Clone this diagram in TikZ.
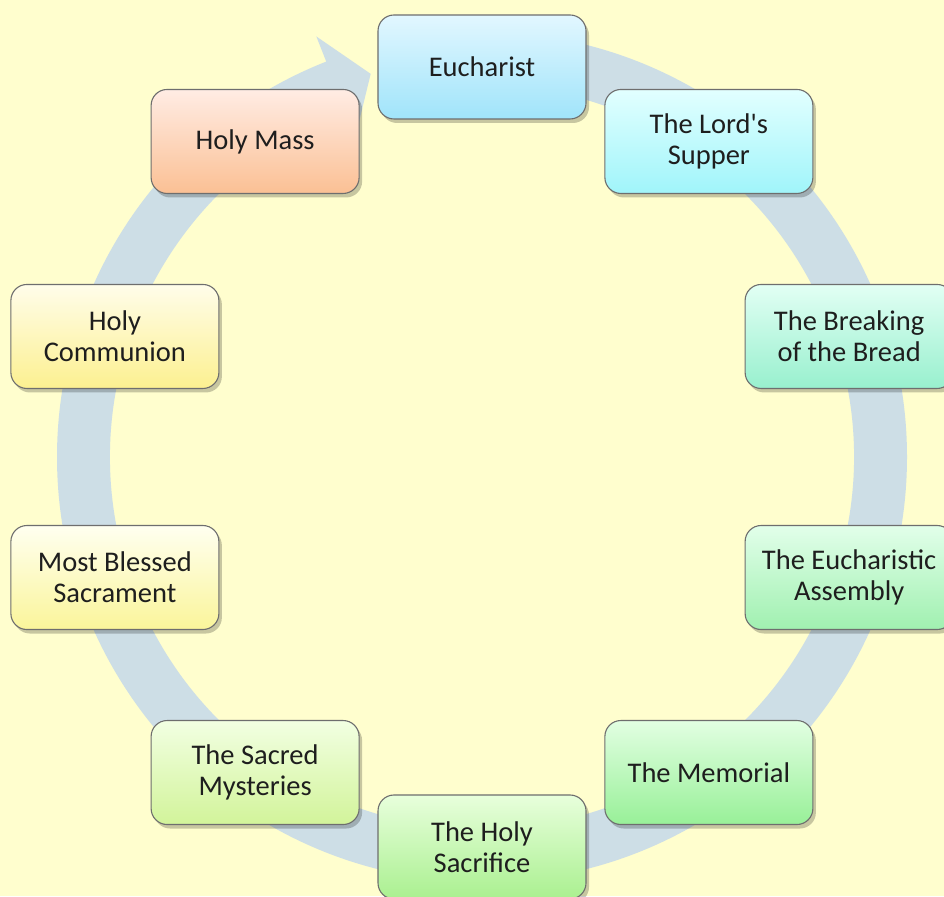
\documentclass[tikz,border=0pt]{standalone}
\usepackage{fontspec}
\setmainfont{Carlito}
\usepackage{tikz}
\usetikzlibrary{shadows}

\definecolor{paper}{RGB}{255,254,206}
\definecolor{ring}{RGB}{205,222,230}
\definecolor{edge}{RGB}{110,110,110}
\definecolor{ink}{RGB}{30,30,30}

\tikzset{
  stage/.style={draw=edge, line width=1.1pt, rounded corners=16pt,
    minimum width=208pt, minimum height=104pt, inner sep=0pt,
    align=center, text=ink,
    font=\fontsize{28.5}{31}\selectfont,
    drop shadow={shadow xshift=3pt, shadow yshift=-4pt, fill=black, opacity=0.22}},
}

\begin{document}
\begin{tikzpicture}[x=1pt,y=1pt]
        \fill[paper] (0,0) rectangle (944,896);
        \useasboundingbox (0,0) rectangle (944,896);

        \begin{scope}[shift={(482pt,439pt)}]
        %% the circular arrow behind the boxes
        \fill[ring] (90:425pt) arc[start angle=90, end angle=-248.5, radius=425pt]
            -- (-248.5:452pt) -- (-253.8:399pt) -- (-248.5:345pt)
            -- (-248.5:372pt) arc[start angle=-248.5, end angle=90, radius=372pt] -- cycle;

        \node (euch)[stage, top color={rgb,255:red,226;green,247;blue,255}, bottom color={rgb,255:red,160;green,228;blue,250}]
            at (90:386pt and 390pt) {Eucharist};
        \node (supper)[stage, top color={rgb,255:red,226;green,255;blue,255}, bottom color={rgb,255:red,160;green,245;blue,250}]
            at (54:386pt and 390pt) {The Lord\textquotesingle s\\Supper};
        \node (bread)[stage, top color={rgb,255:red,226;green,255;blue,244}, bottom color={rgb,255:red,152;green,240;blue,206}]
            at (18:386pt and 390pt) {The Breaking\\of the Bread};
        \node (assembly)[stage, top color={rgb,255:red,226;green,255;blue,234}, bottom color={rgb,255:red,160;green,240;blue,176}]
            at (-18:386pt and 390pt) {The Eucharistic\\Assembly};
        \node (memorial)[stage, top color={rgb,255:red,226;green,255;blue,226}, bottom color={rgb,255:red,152;green,240;blue,152}]
            at (-54:386pt and 390pt) {The Memorial};
        \node (sacrifice)[stage, top color={rgb,255:red,232;green,255;blue,220}, bottom color={rgb,255:red,170;green,240;blue,144}]
            at (-90:386pt and 390pt) {The Holy\\Sacrifice};
        \node (mysteries)[stage, top color={rgb,255:red,242;green,255;blue,226}, bottom color={rgb,255:red,210;green,244;blue,154}]
            at (-126:386pt and 390pt) {The Sacred\\Mysteries};
        \node (sacrament)[stage, top color={rgb,255:red,255;green,255;blue,240}, bottom color={rgb,255:red,250;green,245;blue,154}]
            at (-162:386pt and 390pt) {Most Blessed\\Sacrament};
        \node (communion)[stage, top color={rgb,255:red,255;green,253;blue,234}, bottom color={rgb,255:red,252;green,240;blue,144}]
            at (162:386pt and 390pt) {Holy\\Communion};
        \node (mass)[stage, top color={rgb,255:red,255;green,236;blue,228}, bottom color={rgb,255:red,251;green,192;blue,148}]
            at (126:386pt and 390pt) {Holy Mass};
        \end{scope}

      \end{tikzpicture}
\end{document}
